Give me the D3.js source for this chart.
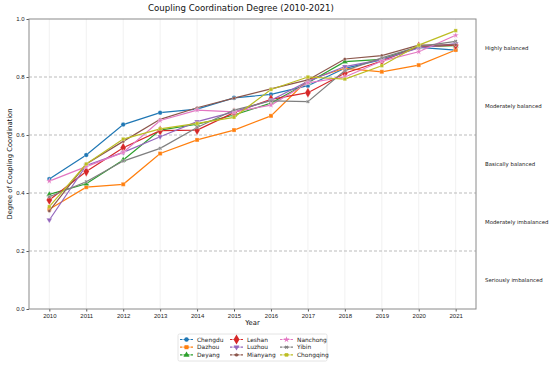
<!DOCTYPE html>
<html>
<head>
<meta charset="utf-8">
<script src="https://cdn.jsdelivr.net/npm/d3@7"></script>
<style>
  body { margin: 0; background: #fff; }
  svg { font-family: "DejaVu Sans", sans-serif; }
</style>
</head>
<body>
<svg id="chart" width="550" height="367"></svg>
<script>
// years on the x axis
const years = [2010, 2011, 2012, 2013, 2014, 2015, 2016, 2017, 2018, 2019, 2020, 2021];

// coupling coordination degree per city
const chengdu   = [0.448, 0.531, 0.636, 0.677, 0.689, 0.728, 0.740, 0.770, 0.830, 0.860, 0.902, 0.893];
const dazhou    = [0.344, 0.420, 0.430, 0.536, 0.583, 0.617, 0.666, 0.790, 0.830, 0.818, 0.841, 0.893];
const deyang    = [0.395, 0.432, 0.514, 0.617, 0.637, 0.669, 0.710, 0.780, 0.853, 0.861, 0.905, 0.908];
const leshan    = [0.376, 0.474, 0.556, 0.615, 0.617, 0.677, 0.723, 0.746, 0.813, 0.855, 0.905, 0.910];
const luzhou    = [0.307, 0.495, 0.540, 0.594, 0.646, 0.680, 0.720, 0.785, 0.836, 0.860, 0.900, 0.915];
const mianyang  = [0.338, 0.500, 0.578, 0.654, 0.694, 0.727, 0.759, 0.790, 0.862, 0.874, 0.910, 0.911];
const nanchong  = [0.441, 0.491, 0.540, 0.650, 0.686, 0.680, 0.703, 0.780, 0.800, 0.855, 0.887, 0.944];
const yibin     = [0.387, 0.439, 0.510, 0.554, 0.626, 0.686, 0.718, 0.715, 0.822, 0.866, 0.905, 0.923];
const chongqing = [0.353, 0.500, 0.586, 0.621, 0.640, 0.661, 0.757, 0.800, 0.793, 0.839, 0.910, 0.960];

const cityNames = ["Chengdu", "Dazhou", "Deyang", "Leshan", "Luzhou", "Mianyang", "Nanchong", "Yibin", "Chongqing"];
const cityValues = [chengdu, dazhou, deyang, leshan, luzhou, mianyang, nanchong, yibin, chongqing];

const yTicks = [0, 0.2, 0.4, 0.6, 0.8, 1.0];
const bandLabels = ["Seriously imbalanced", "Moderately imbalanced", "Basically balanced", "Moderately balanced", "Highly balanced"];

const colors = ["#1f77b4", "#ff7f0e", "#2ca02c", "#d62728", "#9467bd", "#8c564b", "#e377c2", "#7f7f7f", "#bcbd22"];
const shapes = [d3.symbolCircle, d3.symbolSquare, d3.symbolTriangle, d3.symbolDiamond, d3.symbolTriangle,
                d3.symbolCircle, d3.symbolStar, d3.symbolCross, d3.symbolSquare];
const sizes = [16, 16, 16, 30, 14, 8, 12, 8, 12];
const rotations = [0, 0, 0, 0, 180, 0, 0, 45, 0];

const svg = d3.select("#chart");
const padL = 29, padR = 476, padT = 19, padB = 309;

const x = d3.scaleLinear().domain([2009.45, 2021.55]).range([padL, padR]);
const y = d3.scaleLinear().domain([0, 1]).range([padB, padT]);

// vertical grid
svg.append("g").selectAll("line").data(years).join("line")
    .attr("x1", d => x(d)).attr("x2", d => x(d))
    .attr("y1", padT).attr("y2", padB)
    .attr("stroke", "#ededed").attr("stroke-width", 0.8);

// horizontal dashed reference lines
svg.append("g").selectAll("line").data([0.2, 0.4, 0.6, 0.8]).join("line")
    .attr("x1", padL).attr("x2", padR)
    .attr("y1", d => y(d)).attr("y2", d => y(d))
    .attr("stroke", "#bbb").attr("stroke-width", 1)
    .attr("stroke-dasharray", "3,2");

// axes
const xAxis = svg.append("g").attr("transform", `translate(0,${padB})`)
    .call(d3.axisBottom(x).tickValues(years).tickFormat(d3.format("d")).tickSize(2.5).tickPadding(2));
const yAxis = svg.append("g").attr("transform", `translate(${padL},0)`)
    .call(d3.axisLeft(y).tickValues(yTicks).tickFormat(d3.format(".1f")).tickSize(2.5).tickPadding(2));
[xAxis, yAxis].forEach(a => {
    a.select(".domain").remove();
    a.selectAll("text").attr("font-size", 6).attr("fill", "#222");
    a.selectAll("line").attr("stroke", "#555");
});

// frame
svg.append("rect").attr("x", padL).attr("y", padT)
    .attr("width", padR - padL).attr("height", padB - padT)
    .attr("fill", "none").attr("stroke", "#8a8a8a").attr("stroke-width", 1);

// lines and markers
const line = d3.line().x((d, i) => x(years[i])).y(d => y(d));
cityValues.forEach((vals, k) => {
    svg.append("path").datum(vals)
        .attr("d", line)
        .attr("fill", "none").attr("stroke", colors[k]).attr("stroke-width", 1.2);
    svg.append("g").selectAll("path").data(vals).join("path")
        .attr("transform", (d, i) => `translate(${x(years[i])},${y(d)}) rotate(${rotations[k]})`)
        .attr("d", d3.symbol().type(shapes[k]).size(sizes[k]))
        .attr("fill", colors[k]).attr("stroke", "#fff").attr("stroke-width", 0.3);
});

// band labels on the right
svg.append("g").selectAll("text").data(bandLabels).join("text")
    .attr("x", 485)
    .attr("y", (d, i) => y(i * 0.2 + 0.1))
    .attr("dy", "0.35em")
    .attr("font-size", 5.4).attr("fill", "#222")
    .text(d => d);

// titles
svg.append("text").attr("x", 241).attr("y", 11).attr("text-anchor", "middle")
    .attr("font-size", 8.6).attr("fill", "#111")
    .text("Coupling Coordination Degree (2010-2021)");
svg.append("text").attr("x", (padL + padR) / 2).attr("y", 325).attr("text-anchor", "middle")
    .attr("font-size", 6.8).attr("fill", "#111").text("Year");
svg.append("text")
    .attr("transform", `translate(12,${(padT + padB) / 2}) rotate(-90)`)
    .attr("text-anchor", "middle").attr("font-size", 6.8).attr("fill", "#111")
    .text("Degree of Coupling Coordination");

// legend
const lg = svg.append("g").attr("transform", "translate(178,334)");
lg.append("rect").attr("width", 149).attr("height", 27).attr("rx", 1.5)
    .attr("fill", "#fff").attr("stroke", "#ddd").attr("stroke-width", 0.8);
cityNames.forEach((name, k) => {
    const col = Math.floor(k / 3), row = k % 3;
    const gx = 2 + col * 50, gy = 5.5 + row * 7.7;
    const item = lg.append("g").attr("transform", `translate(${gx},${gy})`);
    item.append("line").attr("x1", 0).attr("x2", 13).attr("y1", 0).attr("y2", 0)
        .attr("stroke", colors[k]).attr("stroke-width", 1.2).attr("stroke-dasharray", "2.5,1");
    item.append("path").attr("transform", `translate(6.5,0) rotate(${rotations[k]})`)
        .attr("d", d3.symbol().type(shapes[k]).size(sizes[k]))
        .attr("fill", colors[k]);
    item.append("text").attr("x", 17).attr("y", 0).attr("dy", "0.35em")
        .attr("font-size", 5.9).attr("fill", "#222").text(name);
});
</script>
</body>
</html>
